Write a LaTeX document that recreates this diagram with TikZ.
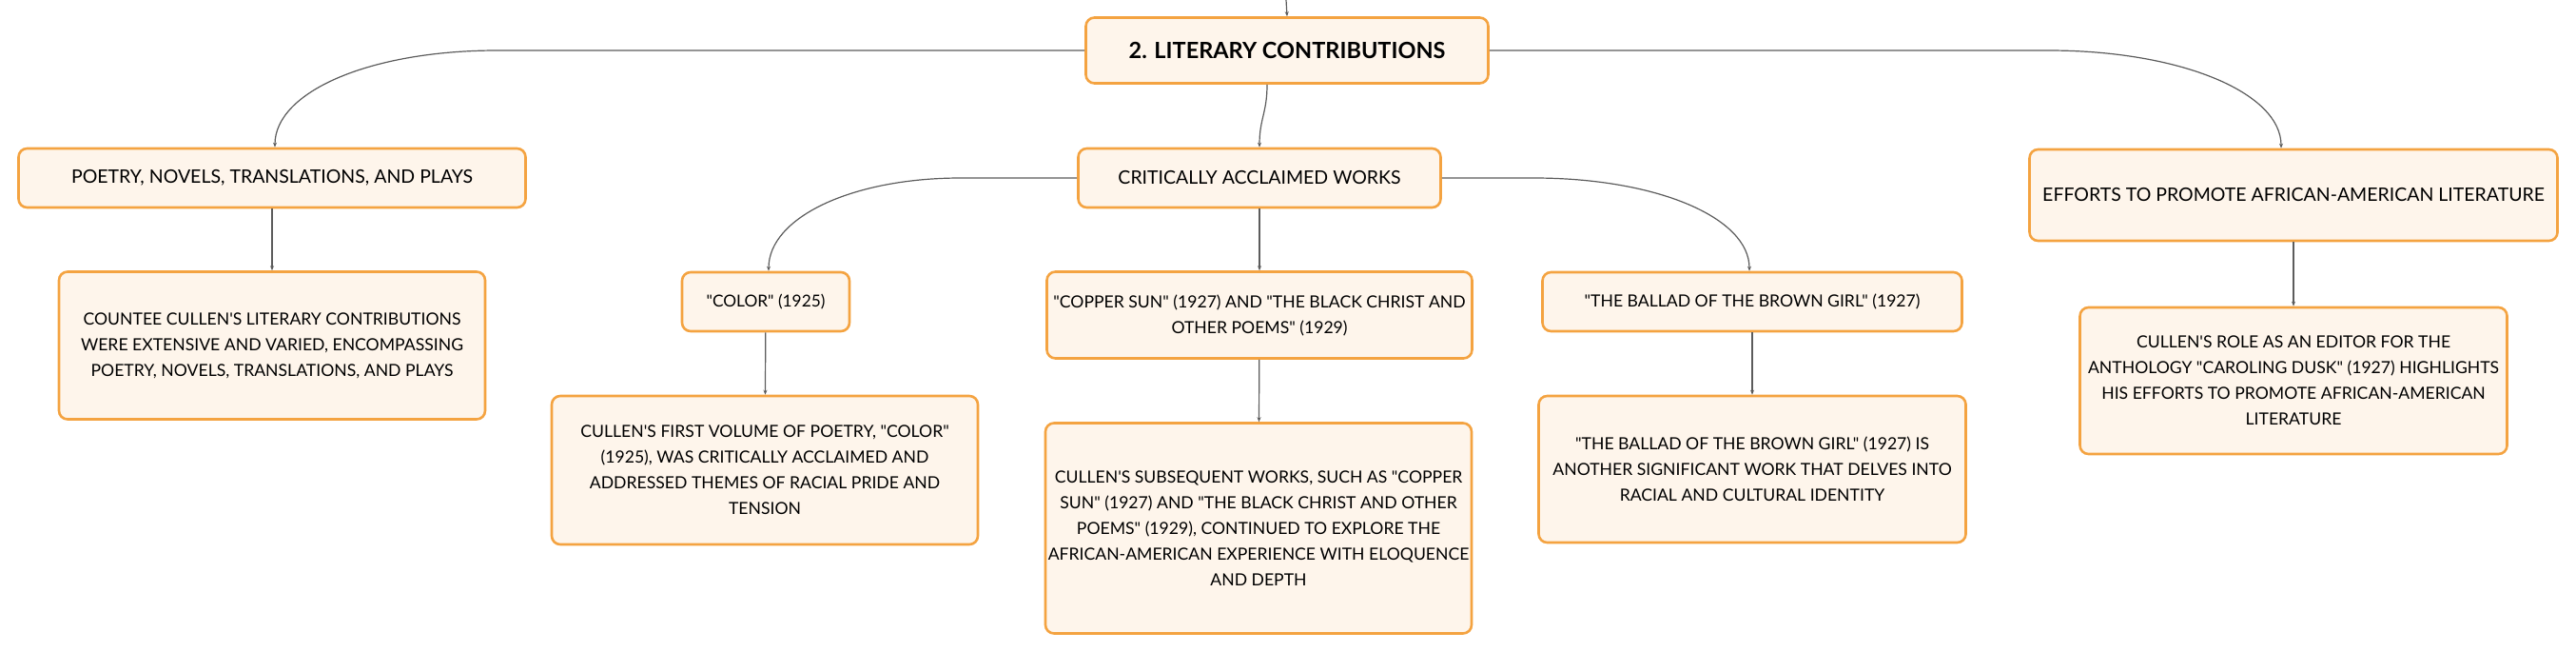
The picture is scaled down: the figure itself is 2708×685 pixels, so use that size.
\documentclass[tikz,border=0pt]{standalone}
\usepackage{fontspec}
\setmainfont{Lato}[Ligatures=TeXOff]
\usetikzlibrary{arrows.meta}
\definecolor{boxline}{HTML}{F4A341}
\definecolor{boxfill}{HTML}{FEF5EB}
\definecolor{linkgray}{HTML}{5C5C5C}
\tikzset{
  topic/.style={draw=boxline, fill=boxfill, line width=2.6pt, rounded corners=9pt,
    inner sep=0pt, align=center, font=\fontsize{17.6}{27}\selectfont},
  head/.style={topic, font=\fontsize{19.5}{27}\selectfont},
  link/.style={draw=linkgray, line width=1.2pt, -{Stealth[length=5pt,width=4pt]}}
}
\begin{document}
\begin{tikzpicture}[x=1pt,y=-1pt]
	\useasboundingbox (0,0) rectangle (2708,685);
	\coordinate (topend) at (1352,0);
	
	\node[topic, minimum width=423, minimum height=69, font=\fontsize{23.5}{27}\bfseries] (main) at (1353,53) {2. LITERARY CONTRIBUTIONS};
	
	\node[head, minimum width=533, minimum height=62] (poetry) at (286,187) {POETRY, NOVELS, TRANSLATIONS, AND PLAYS};
	\node[topic, minimum width=448, minimum height=155] (poetrytxt) at (286,363) {COUNTEE CULLEN'S LITERARY CONTRIBUTIONS\\WERE EXTENSIVE AND VARIED, ENCOMPASSING\\POETRY, NOVELS, TRANSLATIONS, AND PLAYS};
	
	\node[head, minimum width=381, minimum height=62] (crit) at (1324,187) {CRITICALLY ACCLAIMED WORKS};
	\node[topic, minimum width=176, minimum height=62, font=\fontsize{17.3}{27}\selectfont] (color) at (805,317) {"COLOR" (1925)};
	\node[topic, minimum width=448, minimum height=156] (colortxt) at (804,494) {CULLEN'S FIRST VOLUME OF POETRY, "COLOR"\\(1925), WAS CRITICALLY ACCLAIMED AND\\ADDRESSED THEMES OF RACIAL PRIDE AND\\TENSION};
	\node[topic, minimum width=447, minimum height=91] (copper) at (1324,331) {"COPPER SUN" (1927) AND "THE BLACK CHRIST AND\\OTHER POEMS" (1929)};
	\node[topic, minimum width=448, minimum height=221] (coppertxt) at (1323,555) {CULLEN'S SUBSEQUENT WORKS, SUCH AS "COPPER\\SUN" (1927) AND "THE BLACK CHRIST AND OTHER\\POEMS" (1929), CONTINUED TO EXPLORE THE\\AFRICAN-AMERICAN EXPERIENCE WITH ELOQUENCE\\AND DEPTH};
	\node[topic, minimum width=441, minimum height=62] (ballad) at (1842,317) {"THE BALLAD OF THE BROWN GIRL" (1927)};
	\node[topic, minimum width=449, minimum height=154] (balladtxt) at (1842,493) {"THE BALLAD OF THE BROWN GIRL" (1927) IS\\ANOTHER SIGNIFICANT WORK THAT DELVES INTO\\RACIAL AND CULTURAL IDENTITY};
	
	\node[head, minimum width=555, minimum height=96] (efforts) at (2411,205) {EFFORTS TO PROMOTE AFRICAN-AMERICAN LITERATURE};
	\node[topic, minimum width=449, minimum height=154] (effortstxt) at (2411,400) {CULLEN'S ROLE AS AN EDITOR FOR THE\\ANTHOLOGY "CAROLING DUSK" (1927) HIGHLIGHTS\\HIS EFFORTS TO PROMOTE AFRICAN-AMERICAN\\LITERATURE};
	
	% connectors
	\draw[link] (topend) -- (main.north);
	\draw[link] (main.west) -- (523,53) .. controls +(-135,0) and +(0,-58) .. ([xshift=3]poetry.north);
	\draw[link] (main.east) -- (2153,53) .. controls +(140,0) and +(0,-58) .. ([xshift=-13]efforts.north);
	\draw[link] ([xshift=-21]main.south) .. controls +(0,30) and +(0,-30) .. (crit.north);
	\draw[link] (crit.west) -- (1010,187) .. controls +(-115,0) and +(0,-56) .. ([xshift=3]color.north);
	\draw[link] (crit.east) -- (1612,187) .. controls +(130,0) and +(0,-56) .. ([xshift=-3]ballad.north);
	\draw[link] (poetry) -- (poetrytxt);
	\draw[link] (color) -- (colortxt);
	\draw[link] (crit) -- (copper);
	\draw[link] (copper) -- (coppertxt);
	\draw[link] (ballad) -- (balladtxt);
	\draw[link] (efforts) -- (effortstxt);
\end{tikzpicture}
\end{document}
